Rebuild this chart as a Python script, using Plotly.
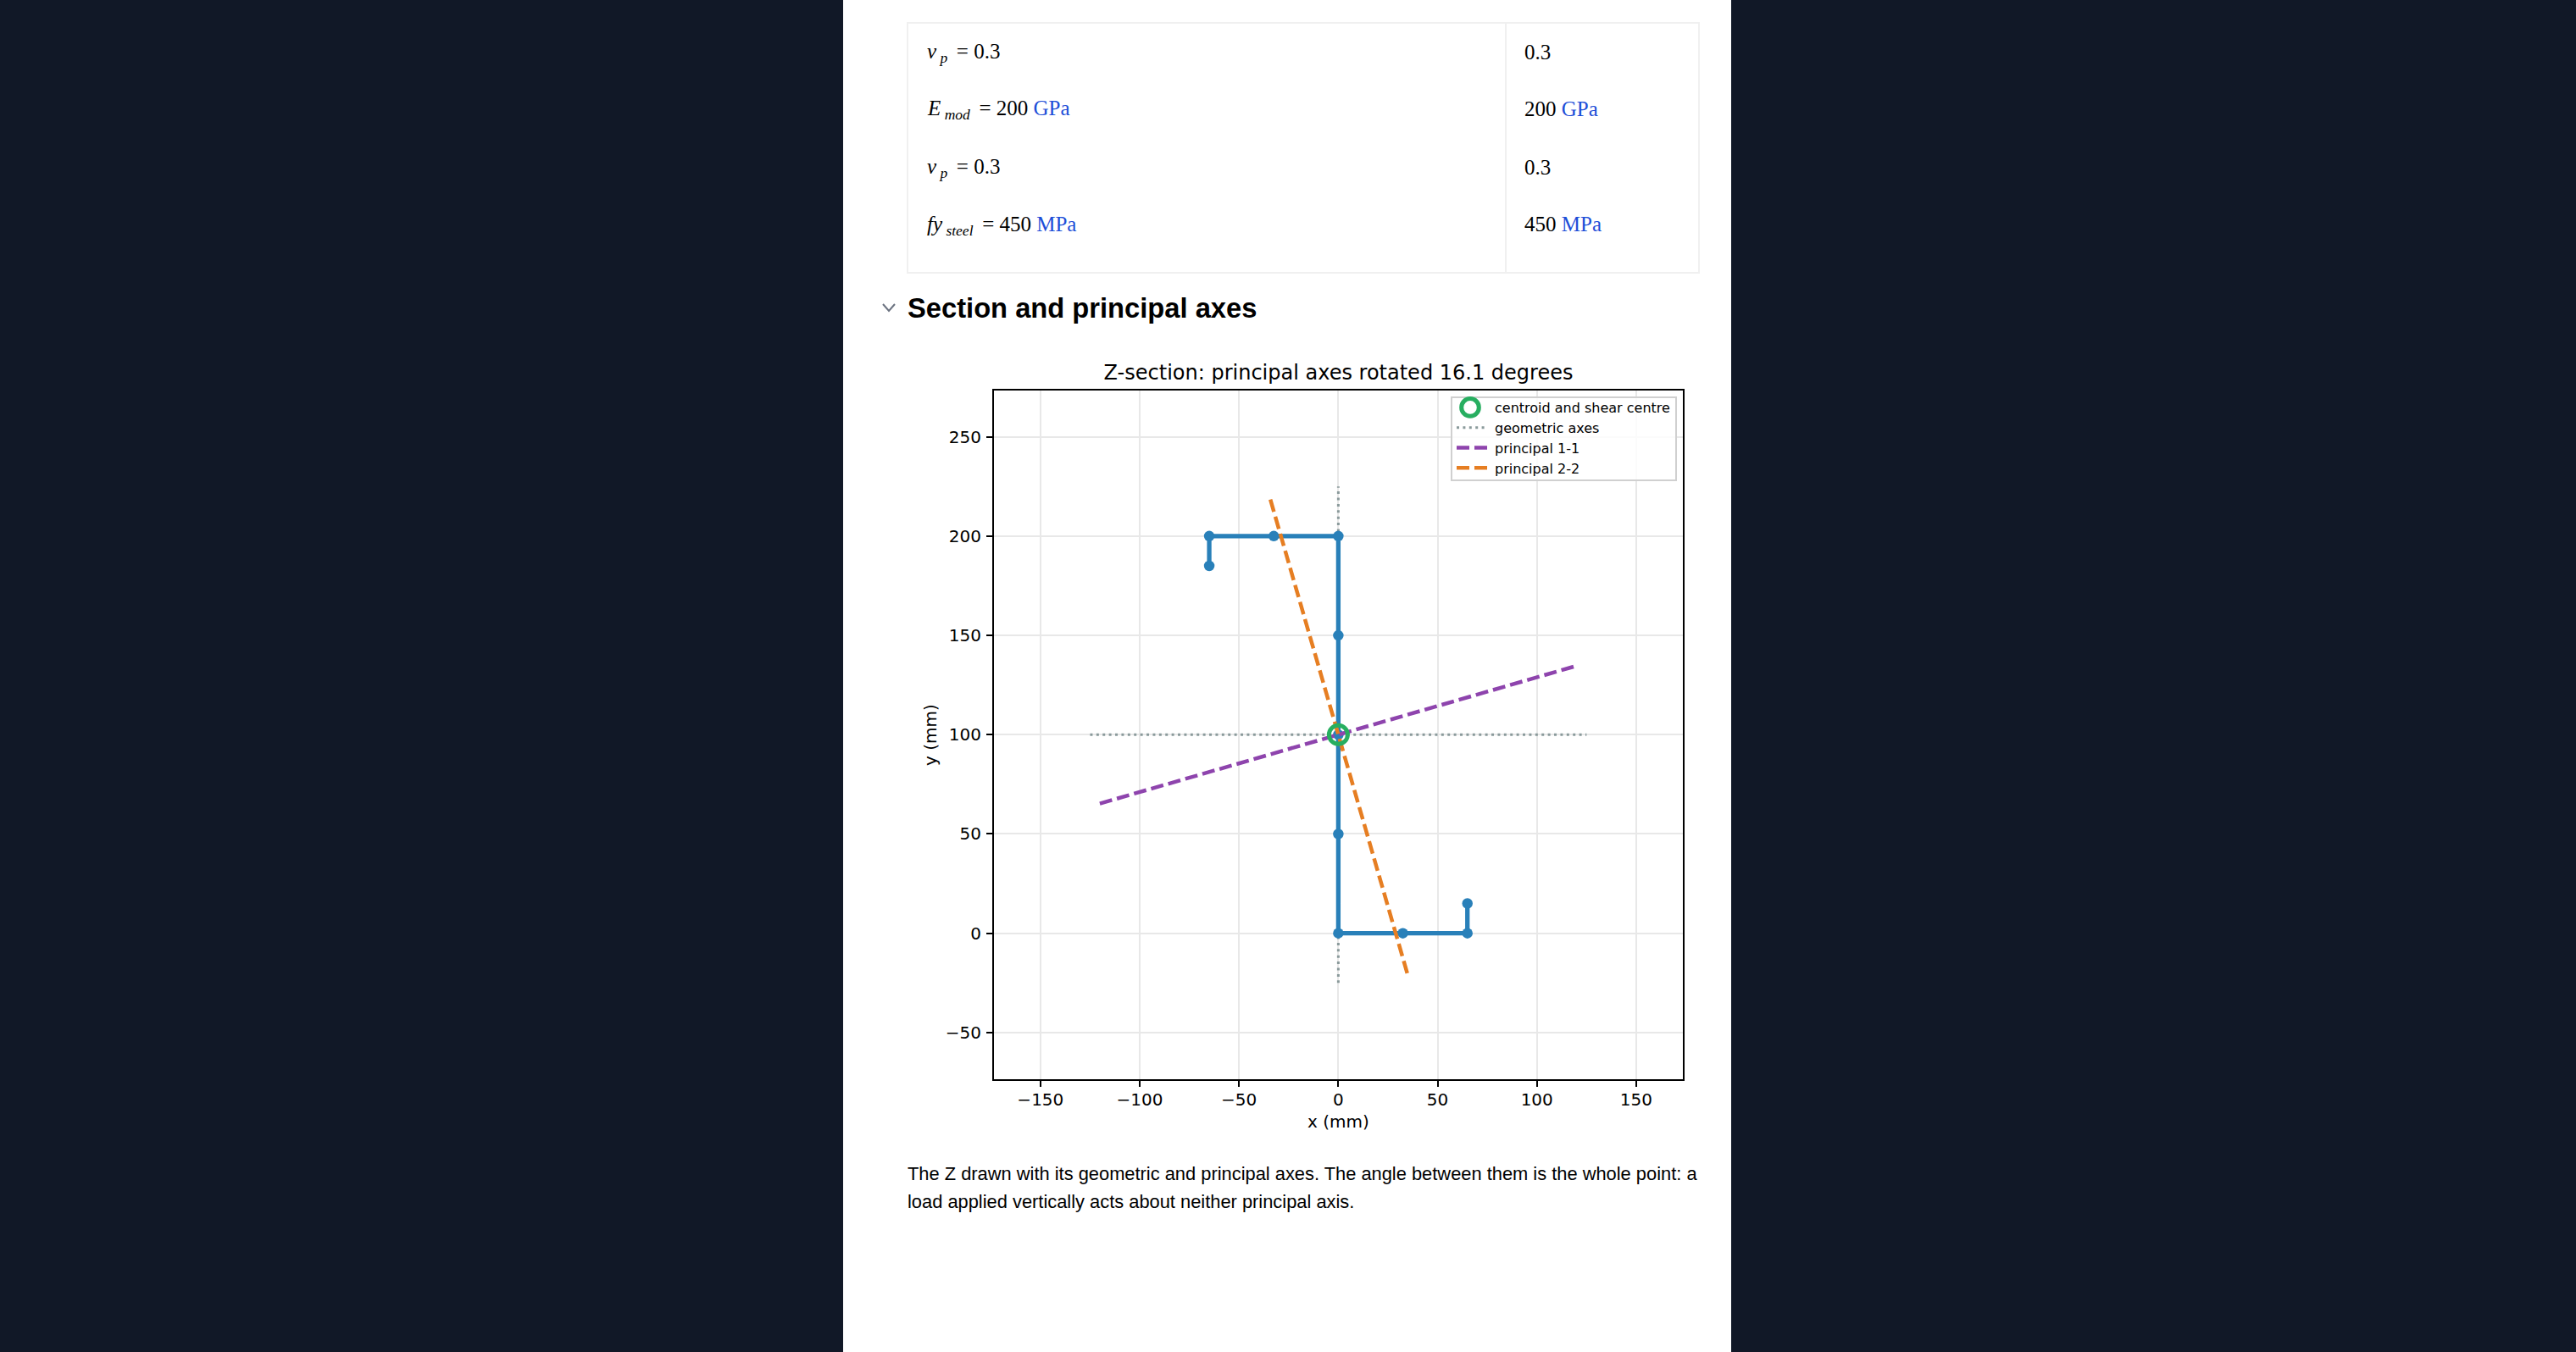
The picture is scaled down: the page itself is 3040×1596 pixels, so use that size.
import plotly.graph_objects as go

W, H = 3040, 1596

section_x = [-65, -65, -32.5, 0, 0, 0, 0, 0, 32.5, 65, 65]
section_y = [185, 200, 200, 200, 150, 100, 50, 0, 0, 0, 15]
centroid_x = [0]
centroid_y = [100]
geom_x = [-125, 125, None, 0, 0]
geom_y = [100, 100, None, -25, 225]
p11_x = [-120.1, 120.1]
p11_y = [65.3, 134.7]
p22_x = [34.7, -34.7]
p22_y = [-20.1, 220.1]

x_ticks = [-150, -100, -50, 0, 50, 100, 150]
y_ticks = [-50, 0, 50, 100, 150, 200, 250]

title = 'Z-section: principal axes rotated 16.1 degrees'
heading = 'Section and principal axes'
caption = ['The Z drawn with its geometric and principal axes. The angle between them is the whole point: a',
           'load applied vertically acts about neither principal axis.']
blue = '#1d4ed8'
table_left = ['<i>ν</i><sub> <i>p</i> </sub> = 0.3',
              '<i>E</i><sub> <i>mod</i> </sub> = 200 <span style="color:%s">GPa</span>' % blue,
              '<i>ν</i><sub> <i>p</i> </sub> = 0.3',
              '<i>fy</i><sub> <i>steel</i> </sub> = 450 <span style="color:%s">MPa</span>' % blue]
table_right = ['0.3',
               '200 <span style="color:%s">GPa</span>' % blue,
               '0.3',
               '450 <span style="color:%s">MPa</span>' % blue]


def px(x):
    return x / W


def py(y):
    return 1 - y / H


def rect(x0, y0, x1, y1, fill, line=None, layer='below'):
    return dict(type='rect', xref='paper', yref='paper', layer=layer,
                x0=px(x0), x1=px(x1), y0=py(y0), y1=py(y1), fillcolor=fill,
                line=dict(color=line or fill, width=2 if line else 0))


def text(x, y, s, font, size, color='#000000'):
    return dict(x=px(x), y=py(y), xref='paper', yref='paper', text=s, showarrow=False,
                xanchor='left', yanchor='middle', borderpad=0, align='left',
                font=dict(family=font, size=size, color=color))


fig = go.Figure()
fig.add_trace(go.Scatter(x=geom_x, y=geom_y, mode='lines', name='geometric axes', legendrank=2,
                         line=dict(color='#8a9a9b', width=3, dash='3px,4.4px')))
fig.add_trace(go.Scatter(x=section_x, y=section_y, mode='lines+markers', showlegend=False,
                         line=dict(color='#2980b9', width=5.3), marker=dict(size=12.5, color='#2980b9')))
fig.add_trace(go.Scatter(x=p11_x, y=p11_y, mode='lines', name='principal 1-1', legendrank=3,
                         line=dict(color='#8e44ad', width=4.5, dash='15px,6px')))
fig.add_trace(go.Scatter(x=p22_x, y=p22_y, mode='lines', name='principal 2-2', legendrank=4,
                         line=dict(color='#e67e22', width=4.5, dash='15px,6px')))
fig.add_trace(go.Scatter(x=centroid_x, y=centroid_y, mode='markers', name='centroid and shear centre', legendrank=1,
                         marker=dict(size=22, color='rgba(0,0,0,0)', line=dict(color='#27ae60', width=5))))

shapes = [
    rect(995, 0, 2043, H, '#ffffff'),
    rect(1071, 27, 2005, 322, '#ffffff', '#f0f0f0'),
    dict(type='line', xref='paper', yref='paper', layer='below', x0=px(1777), x1=px(1777), y0=py(27), y1=py(322),
         line=dict(color='#f0f0f0', width=2)),
    dict(type='path', xref='paper', yref='paper',
         path='M %f,%f L %f,%f L %f,%f' % (px(1042), py(359), px(1049), py(367), px(1056), py(359)),
         line=dict(color='#6b7280', width=2)),
    # legend box, plotly's own one has too much padding
    rect(1713, 469, 1978, 567, 'rgba(255,255,255,0.8)', '#d0d0d0', layer='above'),
]

annotations = []
for y, a, b in zip([61, 128, 197, 265], table_left, table_right):
    annotations.append(text(1093, y + 1.5, a, 'Liberation Serif', 25))
    annotations.append(text(1798, y, b, 'Liberation Serif', 25))
annotations.append(text(1069.5, 363, '<b>%s</b>' % heading, 'Liberation Sans', 32.7))
annotations.append(text(1069.5, 1385, caption[0], 'Liberation Sans', 21.86))
annotations.append(text(1069.5, 1418, caption[1], 'Liberation Sans', 21.86))

fig.update_layout(
    width=W, height=H, autosize=False,
    paper_bgcolor='#111827', plot_bgcolor='#ffffff',
    margin=dict(l=0, r=0, t=0, b=0, pad=0, autoexpand=False),
    font=dict(family='DejaVu Sans', color='#000000'),
    title=dict(text=title, font=dict(size=24), x=(1173 + 1986) / 2 / W, xref='paper', xanchor='center',
               y=py(440), yref='container', yanchor='middle', pad=dict(l=0, r=0, t=0, b=0)),
    shapes=shapes, annotations=annotations,
    legend=dict(x=px(1714), y=py(464), xanchor='left', yanchor='top', xref='paper', yref='paper',
                bgcolor='rgba(0,0,0,0)', borderwidth=0,
                font=dict(size=16), itemwidth=36, tracegroupgap=0, itemsizing='trace'),
    xaxis=dict(domain=[px(1173), px(1986)], range=[-173.4, 173.5], tickvals=x_ticks,
               showgrid=True, gridcolor='#e8e8e8', gridwidth=2, zeroline=False,
               showline=True, mirror=True, linecolor='#000000', linewidth=2,
               ticks='outside', ticklen=7, tickwidth=2, tickcolor='#000000', tickfont=dict(size=20),
               ticklabelstandoff=-2,
               title=dict(text='x (mm)', font=dict(size=20), standoff=8), automargin=False),
    yaxis=dict(domain=[py(1274), py(461)], range=[-73.5, 273.3], tickvals=y_ticks,
               showgrid=True, gridcolor='#e8e8e8', gridwidth=2, zeroline=False,
               showline=True, mirror=True, linecolor='#000000', linewidth=2,
               ticks='outside', ticklen=7, tickwidth=2, tickcolor='#000000', tickfont=dict(size=20),
               ticklabelstandoff=2,
               title=dict(text='y (mm)', font=dict(size=20), standoff=5), automargin=False),
)

# plotly caps the legend marker at 16px, the reference ring is larger
page_js = """
document.body.style.margin='0';document.body.style.overflow='hidden';
var ring=document.querySelector('.legend .scatterpts');
if(ring){ring.setAttribute('transform','translate(-2,0) '+ring.getAttribute('transform')+' scale(1.29)');ring.style.strokeWidth='3.9px';}
document.querySelectorAll('.legend .legendtext').forEach(function(t){t.setAttribute('x',parseFloat(t.getAttribute('x'))+4);});
"""
fig.write_html("out.html", post_script=page_js, config=dict(displayModeBar=False))
